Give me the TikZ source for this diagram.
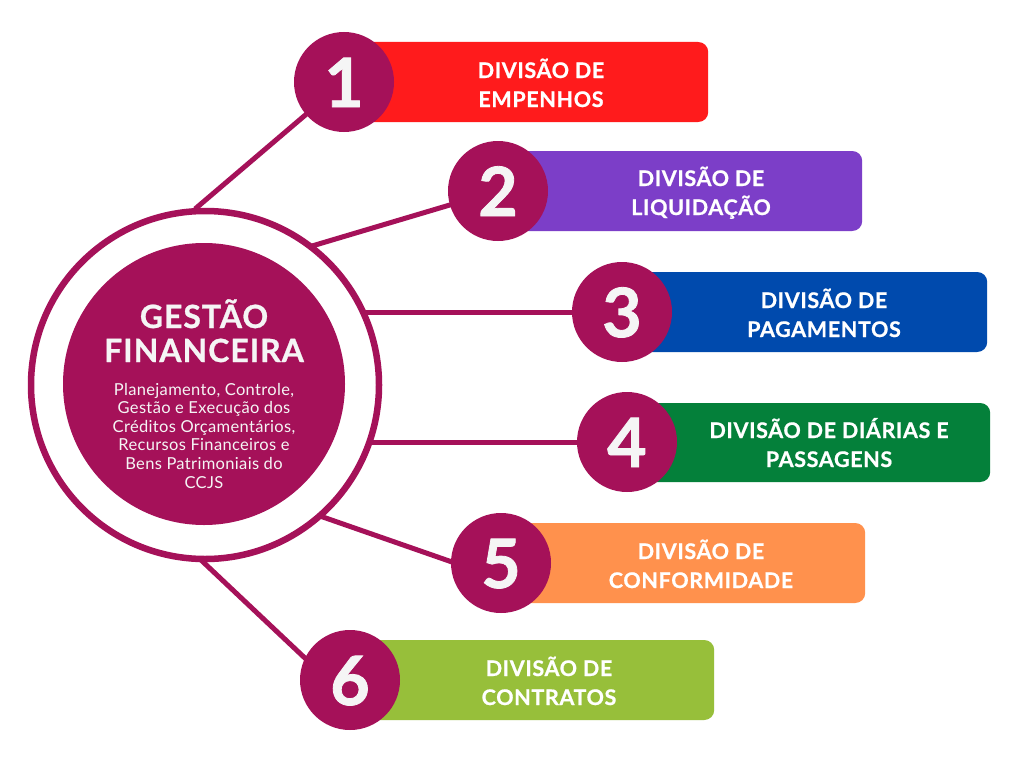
\documentclass[tikz,border=0pt]{standalone}
\usepackage{fontspec}
\setmainfont{Lato}
\newfontfamily\heavy{Lato}[LetterSpace=3, UprightFeatures={FakeBold=0.8}, BoldFeatures={FakeBold=0.8}]
\newfontfamily\numfont{Lato}[UprightFeatures={FakeBold=1.2}, BoldFeatures={FakeBold=1.2}]
\newfontfamily\descfont{Lato}[LetterSpace=2]
\definecolor{plum}{HTML}{A51159}
\definecolor{cred}{HTML}{FF1B1C}
\definecolor{cpurple}{HTML}{7C3EC8}
\definecolor{cblue}{HTML}{004AAD}
\definecolor{cgreen}{HTML}{04803A}
\definecolor{corange}{HTML}{FF914D}
\definecolor{clime}{HTML}{97BF3A}
\definecolor{offwhite}{HTML}{F5F5F5}
\tikzset{
  conn/.style={draw=plum, line width=5pt},
  numcirc/.style={circle, fill=plum, minimum size=100pt, inner sep=0pt},
  numtxt/.style={anchor=base, text=offwhite, font=\numfont\fontsize{68}{68}\selectfont\bfseries, inner sep=0pt},
  divbox/.style={rectangle, rounded corners=10pt, minimum width=364pt, minimum height=80pt, anchor=west, inner sep=0pt},
  divtxt/.style={anchor=base, text=white, align=center, inner sep=0pt, font=\heavy\fontsize{21.5}{29}\selectfont\bfseries},
}
\begin{document}
\begin{tikzpicture}[x=1pt,y=-1pt]
\useasboundingbox (0,0) rectangle (1024,768);
\fill[white] (0,0) rectangle (1024,768);
% centres
\coordinate (p1) at (344,82);
\coordinate (p2) at (498,191);
\coordinate (p3) at (622,312);
\coordinate (p4) at (627,442);
\coordinate (p5) at (501,563);
\coordinate (p6) at (350,680);
% ring points
\coordinate (r1) at (195,209);
\coordinate (r2) at (312,246);
\coordinate (r3) at (365,312);
\coordinate (r4) at (368,442);
\coordinate (r5) at (320,516);
\coordinate (r6) at (201,560);
\coordinate (e1) at (330,94);
\coordinate (e2) at (480,196);
\coordinate (e5) at (475,570);
\coordinate (e6) at (325,677);
% connectors
\draw[conn] (r1) -- (e1);
\draw[conn] (r2) -- (e2);
\draw[conn] (r3) -- (p3);
\draw[conn] (r4) -- (p4);
\draw[conn] (r5) -- (e5);
\draw[conn] (r6) -- (e6);
% central
\node[circle, draw=plum, line width=6.5pt, minimum size=348pt, inner sep=0pt] (ring) at (205,385) {};
\node[circle, fill=plum, minimum size=282pt, inner sep=0pt] (core) at (204,384) {};
\node[anchor=base, text=offwhite, align=center, inner sep=0pt, font=\heavy\fontsize{32}{34}\selectfont\bfseries] (title) at (204,362) {GESTÃO\\FINANCEIRA};
\node[anchor=base, text=offwhite, align=center, inner sep=0pt, font=\descfont\fontsize{16.5}{18.6}\selectfont] (desc) at (204,488) {Planejamento, Controle,\\Gestão e Execução dos\\Créditos Orçamentários,\\Recursos Financeiros e\\Bens Patrimoniais do\\CCJS};
% boxes
\node[divbox, fill=cred] (b1) at (p1) {};
\node[divbox, fill=cpurple] (b2) at (p2) {};
\node[divbox, fill=cblue, minimum width=365pt] (b3) at (p3) {};
\node[divbox, fill=cgreen, minimum width=363pt, minimum height=79pt] (b4) at (627,442.5) {};
\node[divbox, fill=corange] (b5) at (p5) {};
\node[divbox, fill=clime] (b6) at (p6) {};
\node[divtxt] (t1) at (541,107) {DIVISÃO DE\\EMPENHOS};
\node[divtxt] (t2) at (701,215) {DIVISÃO DE\\LIQUIDAÇÃO};
\node[divtxt] (t3) at (824,337) {DIVISÃO DE\\PAGAMENTOS};
\node[divtxt] (t4) at (829,467) {DIVISÃO DE DIÁRIAS E\\PASSAGENS};
\node[divtxt] (t5) at (701,588) {DIVISÃO DE\\CONFORMIDADE};
\node[divtxt] (t6) at (549,705) {DIVISÃO DE\\CONTRATOS};
% number circles
\node[numcirc] (c1) at (p1) {};
\node[numcirc] (c2) at (p2) {};
\node[numcirc] (c3) at (p3) {};
\node[numcirc] (c4) at (p4) {};
\node[numcirc] (c5) at (p5) {};
\node[numcirc] (c6) at (p6) {};
\node[numtxt] (n1) at (344,107) {1};
\node[numtxt] (n2) at (498,216) {2};
\node[numtxt] (n3) at (622,337) {3};
\node[numtxt] (n4) at (627,467) {4};
\node[numtxt] (n5) at (501,588) {5};
\node[numtxt] (n6) at (350,705) {6};
\end{tikzpicture}
\end{document}
